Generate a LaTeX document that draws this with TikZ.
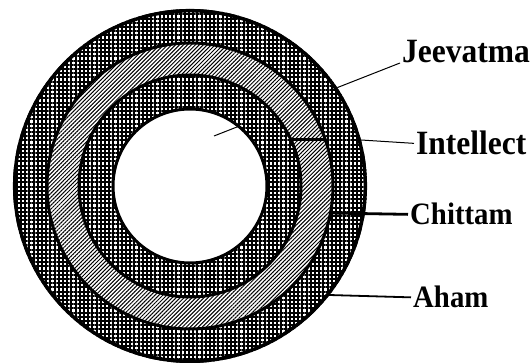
\documentclass[tikz,border=0pt]{standalone}
\usepackage{fontspec}
\usepackage{graphicx}
\setmainfont{Liberation Serif}
\usetikzlibrary{patterns.meta}
\begin{document}
\begin{tikzpicture}[x=1pt,y=-1pt,
  dark/.style={pattern={Hatch[distance=4.2pt,line width=2pt]},pattern color=black},
  light/.style={pattern={Lines[angle=45,distance=2.8pt,line width=1pt]},pattern color=black},
  rim/.style={draw=black,line width=3pt},
  lbl/.style={inner sep=0pt,anchor=base west},
  big/.style={font=\fontsize{31.5}{34}\selectfont\bfseries},
  small/.style={font=\fontsize{28.8}{31}\selectfont\bfseries},
  lead/.style={draw=black,line width=1pt}]
\useasboundingbox (0,0) rectangle (531,363);
\coordinate (c) at (190,186);
% labels
\node[lbl,big] (jv) at (402,63) {\scalebox{1}[1.08]{Jeevatma}};
\node[lbl,big] (in) at (416,155) {\scalebox{1}[1.08]{Intellect}};
\node[lbl,small] (ch) at (410,225) {\scalebox{1}[1.08]{Chittam}};
\node[lbl,small] (ah) at (413,308) {\scalebox{1}[1.08]{Aham}};
% Jeevatma leader (hidden under the rings)
\coordinate (jvend) at (214,136);
\draw[lead] (jvend) -- ([xshift=-2pt]jv.base west);
% rings
\path[fill=white,even odd rule] (c) circle[radius=177] (c) circle[radius=77];
\path[dark,even odd rule] (c) circle[radius=177] (c) circle[radius=143];
\path[light,even odd rule] (c) circle[radius=143] (c) circle[radius=111];
\path[dark,even odd rule] (c) circle[radius=111] (c) circle[radius=77];
\draw[rim,line width=3.5pt] (c) circle[radius=175.3];
\draw[rim] (c) circle[radius=143];
\draw[rim] (c) circle[radius=111];
\draw[rim] (c) circle[radius=77];
% other leaders
\coordinate (inA) at (292,140);
\coordinate (inB) at (326,140);
\coordinate (inC) at (361,140);
\coordinate (chA) at (330,213);
\coordinate (ahA) at (329,295);
\draw[line width=3pt] (inA) -- (inB);
\draw[lead] (inC) -- ([xshift=-2pt]in.west);
\draw[line width=2.8pt] (chA) -- ([xshift=-2pt]ch.west);
\draw[line width=1.8pt] (ahA) -- ([xshift=-2pt]ah.west);
\end{tikzpicture}
\end{document}
